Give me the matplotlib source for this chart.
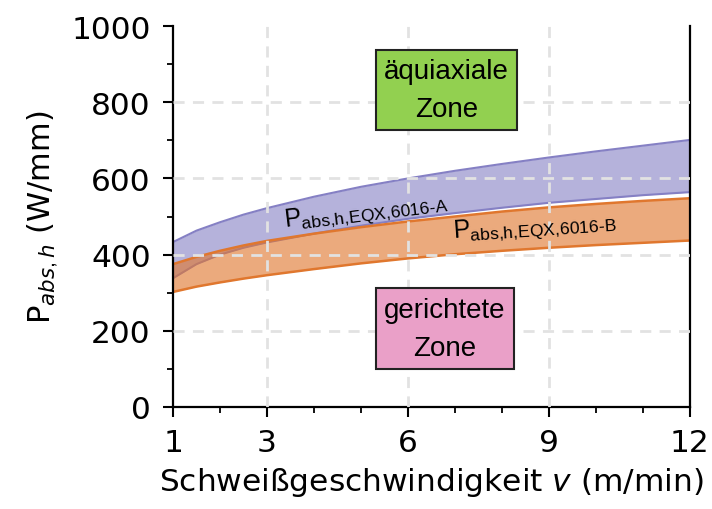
import numpy as np
import matplotlib
matplotlib.use("Agg")
import matplotlib.pyplot as plt
from matplotlib.ticker import MultipleLocator

# -----------------------------
# Data
# -----------------------------
v = [1, 1.5, 2, 2.5, 3, 4, 5, 6, 7, 8, 9, 10, 11, 12]

# 6016-A band
a_upper = [433, 463, 485, 505, 522, 552, 578, 600, 620, 638, 655, 671, 686, 701]
a_lower = [338, 375, 400, 418, 432, 455, 476, 494, 509, 523, 536, 546, 556, 564]

# 6016-B band
b_upper = [375, 394, 410, 424, 436, 455, 472, 487, 500, 513, 524, 533, 541, 548]
b_lower = [302, 316, 327, 337, 346, 362, 377, 390, 401, 410, 418, 425, 431, 437]

x_ticks = [1, 3, 6, 9, 12]
y_ticks = [0, 200, 400, 600, 800, 1000]

# -----------------------------
# Plot
# -----------------------------
plt.rcParams['font.family'] = 'DejaVu Sans'
plt.rcParams['mathtext.fontset'] = 'custom'
plt.rcParams['mathtext.rm'] = 'Liberation Sans'
plt.rcParams['mathtext.it'] = 'DejaVu Sans:italic'
plt.rcParams['mathtext.bf'] = 'DejaVu Sans:bold'

fig = plt.figure(figsize=(7.12, 5.10), dpi=100)
ax = fig.add_axes([0.243, 0.200, 0.726, 0.747])

purple = '#8580c4'
orange = '#e0772e'

ax.fill_between(v, a_lower, a_upper, color=purple, alpha=0.6, lw=0, zorder=1)
ax.plot(v, a_upper, color=purple, lw=1.5, zorder=1.2)
ax.plot(v, a_lower, color=purple, lw=1.5, zorder=1.2)

ax.fill_between(v, b_lower, b_upper, color=orange, alpha=0.62, lw=0, zorder=1.5)
ax.plot(v, b_upper, color=orange, lw=1.8, zorder=1.7)
ax.plot(v, b_lower, color=orange, lw=1.8, zorder=1.7)

ax.set_xlim(1, 12)
ax.set_ylim(0, 1000)
ax.set_xticks(x_ticks)
ax.set_yticks(y_ticks)
ax.xaxis.set_minor_locator(MultipleLocator(1))
ax.yaxis.set_minor_locator(MultipleLocator(100))
ax.tick_params(which='major', length=7, width=1.5, labelsize=22.5)
ax.tick_params(axis='y', which='major', pad=9)
ax.tick_params(axis='x', which='major', pad=8)
ax.tick_params(which='minor', length=4, width=1.3)

ax.set_axisbelow(False)
ax.grid(True, which='major', color='#e2e2e2', ls=(0, (4, 3)), lw=2, zorder=2)
# no grid lines on the frame
for lines in (ax.xaxis.get_gridlines(), ax.yaxis.get_gridlines()):
    lines[0].set_visible(False)
    lines[-1].set_visible(False)

ax.spines['top'].set_visible(False)
for s in ['left', 'bottom', 'right']:
    ax.spines[s].set_linewidth(1.6)

ax.set_xlabel(r'Schweißgeschwindigkeit $v$ (m/min)', fontsize=22.5, labelpad=6)
ax.set_ylabel(r'P$_{abs,h}$ (W/mm)', fontsize=22, labelpad=8)

# zone boxes
box_font = 'Liberation Sans'
ax.text(6.82, 832, 'äquiaxiale\nZone', fontsize=20, family=box_font,
        ha='center', va='center', linespacing=1.6, zorder=4,
        bbox=dict(boxstyle='square,pad=0.3', fc='#92d050', ec='#222222', lw=1.5))
ax.text(6.78, 206, 'gerichtete\nZone', fontsize=20, family=box_font,
        ha='center', va='center', linespacing=1.6, zorder=4,
        bbox=dict(boxstyle='square,pad=0.3', fc='#eaa0c8', ec='#222222', lw=1.5))

# band labels
ax.text(3.38, 475, r'P$_\mathregular{abs{,}h{,}EQX{,}6016\text{-}A}$', fontsize=18,
        family=box_font, rotation=7, rotation_mode='anchor',
        ha='left', va='baseline', zorder=5)
ax.text(6.96, 446, r'P$_\mathregular{abs{,}h{,}EQX{,}6016\text{-}B}$', fontsize=18,
        family=box_font, rotation=4, rotation_mode='anchor',
        ha='left', va='baseline', zorder=5)

plt.savefig("out.png", dpi=100)
